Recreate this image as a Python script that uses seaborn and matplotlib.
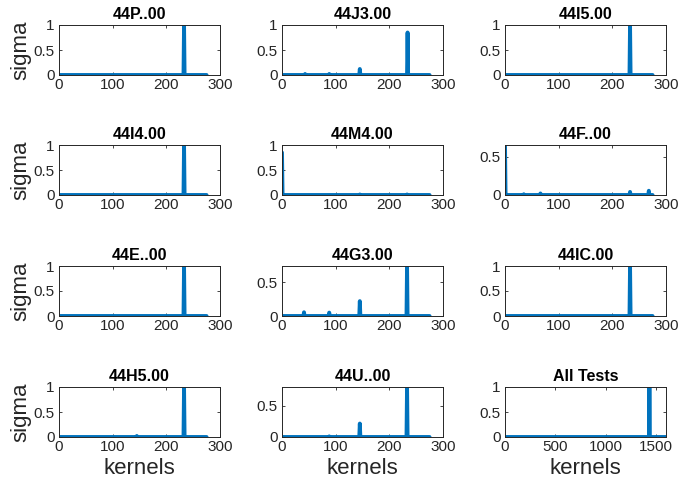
import numpy as np
import pandas as pd
import matplotlib
matplotlib.use("Agg")
import matplotlib.pyplot as plt
import seaborn as sns

# Panel titles, in reading order
titles = ["44P..00", "44J3.00", "44I5.00",
          "44I4.00", "44M4.00", "44F..00",
          "44E..00", "44G3.00", "44IC.00",
          "44H5.00", "44U..00", "All Tests"]

# Number of kernels per panel
n_kernels = [276, 276, 276, 276, 276, 276, 276, 276, 276, 276, 276, 1600]

# Non-zero sigma values: kernel index -> sigma
peak_idx = [
    [233],
    [43, 88, 145, 234],
    [233],
    [233],
    [0, 1, 145, 233],
    [0, 1, 35, 66, 233, 268],
    [233],
    [41, 88, 145, 233],
    [233],
    [145, 233],
    [88, 145, 233],
    [1435],
]
peak_val = [
    [1.0],
    [0.02, 0.02, 0.12, 0.85],
    [1.0],
    [1.0],
    [0.85, 0.03, 0.01, 0.01],
    [0.65, 0.03, 0.01, 0.02, 0.04, 0.055],
    [1.0],
    [0.055, 0.05, 0.22, 0.74],
    [1.0],
    [0.02, 1.0],
    [0.01, 0.215, 0.8],
    [1.0],
]

# Axis ranges
x_max = [300] * 11 + [1600]
y_max = [1, 1, 1, 1, 1, 0.65, 1, 0.74, 1, 1, 0.8, 1]
x_ticks = [[0, 100, 200, 300]] * 11 + [[0, 500, 1000, 1500]]

sns.set_style("ticks")
plt.rcParams["font.family"] = ["Liberation Sans", "DejaVu Sans"]

fig = plt.figure(figsize=(6.82, 4.88), dpi=100)
W, H = 682, 488
col_left = [59, 282, 505]
row_top = [25, 145, 266, 387]
aw, ah = 161, 50

dark = "#262626"
line_color = "#0072BD"

for i, title in enumerate(titles):
    r, c = divmod(i, 3)
    ax = fig.add_axes([col_left[c] / W, 1 - (row_top[r] + ah) / H, aw / W, ah / H])
    sigma = np.zeros(n_kernels[i])
    for k, v in zip(peak_idx[i], peak_val[i]):
        sigma[k] = v
    df = pd.DataFrame({"kernel": np.arange(n_kernels[i]), "sigma": sigma})
    sns.lineplot(data=df, x="kernel", y="sigma", ax=ax, color=line_color,
                 linewidth=2.8, clip_on=True)
    ax.set_xlim(0, x_max[i])
    ax.set_ylim(0, y_max[i])
    ax.set_xticks(x_ticks[i])
    ax.set_yticks([0, 0.5, 1] if y_max[i] >= 1 else [0, 0.5])
    ax.set_yticklabels(["0", "0.5", "1"][:len(ax.get_yticks())])
    ax.tick_params(direction="in", length=2.5, width=0.6, colors=dark,
                   labelsize=11, top=True, right=True, pad=3)
    ax.tick_params(axis="x", pad=2)
    for s in ax.spines.values():
        s.set_visible(True)
        s.set_color(dark)
        s.set_linewidth(0.7)
    ax.set_title(title, fontsize=11.5, fontweight="bold", color="black", pad=4)
    ax.set_xlabel("kernels" if r == 3 else "", fontsize=16, color=dark, labelpad=3)
    ax.set_ylabel("sigma" if c == 0 else "", fontsize=16, color=dark, labelpad=2)

fig.savefig("out.png", dpi=100)
